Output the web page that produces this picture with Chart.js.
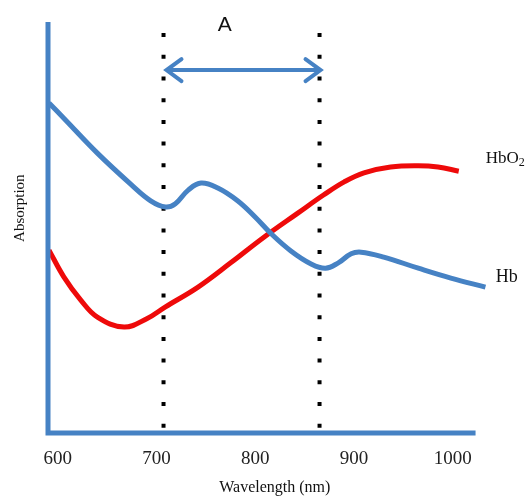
<!DOCTYPE html>
<html>
<head>
<meta charset="utf-8">
<script src="https://cdn.jsdelivr.net/npm/chart.js@4/dist/chart.umd.min.js"></script>
<style>
html,body{margin:0;padding:0;background:#fff;}
#wrap{width:529px;height:500px;position:relative;}
</style>
</head>
<body>
<div id="wrap"><canvas id="c" width="529" height="500"></canvas></div>
<script>
// ---- data ----
const xTicks = [600, 700, 800, 900, 1000];
const wavelengthHb = [591, 606, 640, 674, 694, 709, 719, 732, 745, 762, 782, 800, 816, 836, 856, 871, 884, 897, 907, 930, 965, 998, 1033];
const hb = [80.3, 76.6, 68.1, 60.5, 56.5, 55.0, 55.8, 59.1, 60.8, 59.6, 56.5, 52.5, 48.5, 44.3, 41.2, 40.1, 41.4, 43.6, 44.0, 42.8, 40.1, 37.7, 35.5];
const wavelengthHbO2 = [591, 606, 623, 640, 667, 690, 709, 742, 775, 809, 843, 869, 890, 910, 937, 965, 985, 1006];
const hbo2 = [44.5, 38.0, 32.4, 28.2, 25.8, 27.8, 30.7, 35.5, 41.4, 47.7, 53.5, 57.9, 61.1, 63.3, 64.7, 65.0, 64.7, 63.7];
const markerLines = [707, 865];
const markerTop = 97.3;
const rangeArrow = [710, 866];
const arrowLevel = 88.3;
const rangeLabel = 'A';
const rangeLabelAt = [769, 99.3];
const xRange = [590, 1035];
const xAxisEnd = 1023;
const yRange = [0, 100];

const BLUE = '#4682c4';
const RED = '#ee0a0a';

function pts(xs, ys) { return xs.map((v, i) => ({x: v, y: ys[i]})); }

const datasets = [
  {label: 'Hb', data: pts(wavelengthHb, hb), borderColor: BLUE, borderWidth: 5, pointRadius: 0, tension: 0.4, fill: false, borderCapStyle: 'butt'},
  {label: 'HbO2', data: pts(wavelengthHbO2, hbo2), borderColor: RED, borderWidth: 5, pointRadius: 0, tension: 0.4, fill: false},
];
markerLines.forEach(w => datasets.push({
  label: 'marker', data: [{x: w, y: markerTop}, {x: w, y: yRange[0]}],
  borderColor: '#000', borderWidth: 4, borderDash: [4, 17.7], pointRadius: 0, tension: 0, borderCapStyle: 'butt'
}));
datasets.push({
  label: 'range', data: [{x: rangeArrow[0], y: arrowLevel}, {x: rangeArrow[1], y: arrowLevel}],
  borderColor: BLUE, borderWidth: 4, pointRadius: 0, tension: 0
});

const overlay = {
  id: 'overlay',
  afterDatasetsDraw(chart) {
    const {ctx, scales: {x, y}} = chart;
    ctx.save();
    // axes
    ctx.strokeStyle = BLUE; ctx.lineWidth = 5; ctx.lineCap = 'butt'; ctx.lineJoin = 'miter';
    ctx.beginPath();
    ctx.moveTo(x.getPixelForValue(xRange[0]), y.getPixelForValue(yRange[1]));
    ctx.lineTo(x.getPixelForValue(xRange[0]), y.getPixelForValue(yRange[0]));
    ctx.lineTo(x.getPixelForValue(xAxisEnd), y.getPixelForValue(yRange[0]));
    ctx.stroke();
    // arrow heads
    const ay = y.getPixelForValue(arrowLevel);
    const lx = x.getPixelForValue(rangeArrow[0]);
    const rx = x.getPixelForValue(rangeArrow[1]);
    ctx.lineWidth = 4; ctx.lineCap = 'round'; ctx.lineJoin = 'miter';
    ctx.beginPath();
    ctx.moveTo(lx + 15, ay - 11); ctx.lineTo(lx, ay); ctx.lineTo(lx + 15, ay + 11);
    ctx.moveTo(rx - 15, ay - 11); ctx.lineTo(rx, ay); ctx.lineTo(rx - 15, ay + 11);
    ctx.stroke();
    // texts
    ctx.fillStyle = '#111';
    ctx.textAlign = 'center'; ctx.textBaseline = 'middle';
    ctx.font = '21px "Liberation Sans", Arial, sans-serif';
    ctx.fillText(rangeLabel, x.getPixelForValue(rangeLabelAt[0]), y.getPixelForValue(rangeLabelAt[1]));
    ctx.font = '16px "Liberation Serif", serif';
    ctx.fillText('Wavelength (nm)', x.getPixelForValue(819.7), 488);
    ctx.save();
    ctx.translate(20, y.getPixelForValue(54.7));
    ctx.rotate(-Math.PI / 2);
    ctx.font = '15px "Liberation Serif", serif';
    ctx.fillText('Absorption', 0, 0);
    ctx.restore();
    // series labels
    ctx.textAlign = 'left';
    ctx.font = '18px "Liberation Serif", serif';
    const hx = x.getPixelForValue(1043.5), hy = y.getPixelForValue(38.0);
    ctx.fillText('Hb', hx, hy);
    ctx.font = '17px "Liberation Serif", serif';
    const ox = x.getPixelForValue(1033.4), oy = y.getPixelForValue(66.7);
    ctx.fillText('HbO', ox, oy);
    const w = ctx.measureText('HbO').width;
    ctx.font = '12px "Liberation Serif", serif';
    ctx.fillText('2', ox + w, oy + 4);
    ctx.restore();
  }
};

new Chart(document.getElementById('c'), {
  type: 'line',
  data: {datasets},
  options: {
    responsive: false,
    animation: false,
    layout: {padding: {left: 48, right: 41.6, top: 22, bottom: 0}},
    plugins: {legend: {display: false}, tooltip: {enabled: false}},
    scales: {
      x: {
        type: 'linear', min: xRange[0], max: xRange[1],
        grid: {display: false, drawTicks: false},
        border: {display: false},
        afterBuildTicks: s => { s.ticks = xTicks.map(v => ({value: v})); },
        afterFit: s => { s.height = 67; },
        ticks: {color: '#222', padding: 15, font: {family: '"Liberation Serif", serif', size: 19}, maxRotation: 0, autoSkip: false, callback: v => String(v)}
      },
      y: {type: 'linear', min: yRange[0], max: yRange[1], display: false}
    }
  },
  plugins: [overlay]
});
</script>
</body>
</html>
